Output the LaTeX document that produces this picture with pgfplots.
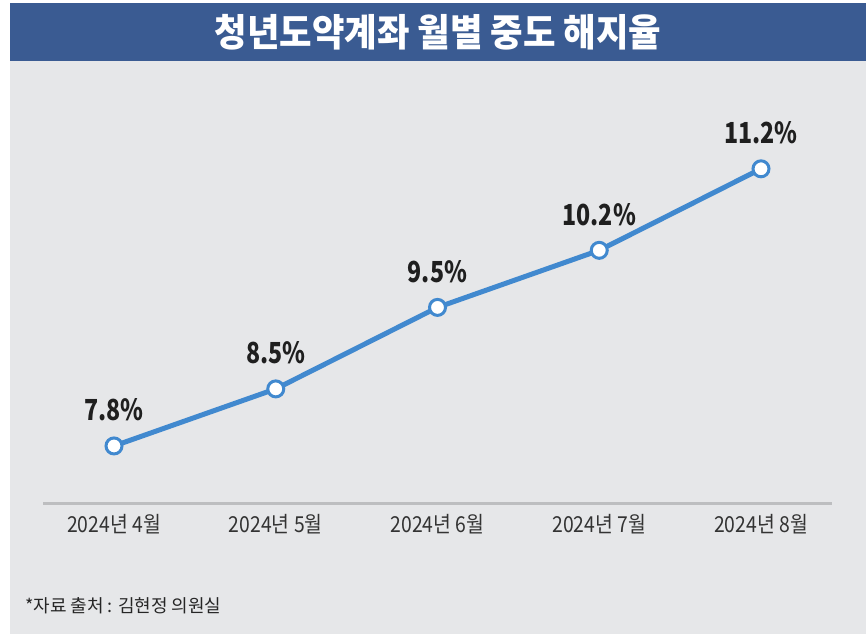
\documentclass[border=0pt]{standalone}
\usepackage{pgfplots}
\pgfplotsset{compat=1.18}
\usepackage{fontspec}
\newfontfamily\kr{Noto Sans CJK KR}
\definecolor{barblue}{HTML}{3A5B92}
\definecolor{bggrey}{HTML}{E6E7E9}
\definecolor{lineblue}{HTML}{4189CF}
\definecolor{axgrey}{HTML}{BDBEC0}
\begin{document}
\begin{tikzpicture}
\fill[white] (0,0) rectangle (433pt,317pt);
\fill[bggrey] (5pt,0) rectangle (433pt,286.5pt);
\fill[barblue] (5pt,286.5pt) rectangle (433pt,315.5pt);
\node[text=white, font=\kr\bfseries\fontsize{19}{22}\selectfont, xscale=0.93] at (219pt,301pt) {청년도약계좌 월별 중도 해지율};
\node[anchor=west, text=black!85, font=\kr\fontsize{9}{11}\selectfont] at (9pt,{(634-606)*0.5pt}) {*자료 출처 : 김현정 의원실};
\begin{axis}[
  at={(21.5pt,65.5pt)}, anchor=south west,
  scale only axis, width=394.5pt, height=199.7pt,
  xmin=-0.439, xmax=4.439, ymin=7.1, ymax=12,
  axis x line*=bottom, axis y line=none,
  axis line style={draw=axgrey, line width=1.5pt, -},
  xtick={0,1,2,3,4},
  xticklabels={2024년 4월,2024년 5월,2024년 6월,2024년 7월,2024년 8월},
  major tick length=0pt,
  xticklabel style={font=\kr\fontsize{11}{13}\selectfont, text=black!80, xscale=0.88, anchor=center, yshift=-10.5pt},
  ytick=\empty,
  clip=false,
  nodes near coords={\pgfmathprintnumber[assume math mode=true,fixed,precision=1,fixed zerofill]{\pgfplotspointmeta}\%},
  point meta=explicit,
  nodes near coords style={font=\kr\bfseries\fontsize{14.5}{16}\selectfont, text=black!88, xscale=0.8, anchor=center, yshift=18pt},
]
\addplot[color=lineblue, line width=2.5pt, mark=*, mark size=4pt,
  mark options={fill=white, draw=lineblue, line width=1.5pt}]
  coordinates {(0,7.8)[7.8] (1,8.5)[8.5] (2,9.5)[9.5] (3,10.2)[10.2] (4,11.2)[11.2]};
\end{axis}
\end{tikzpicture}
\end{document}
